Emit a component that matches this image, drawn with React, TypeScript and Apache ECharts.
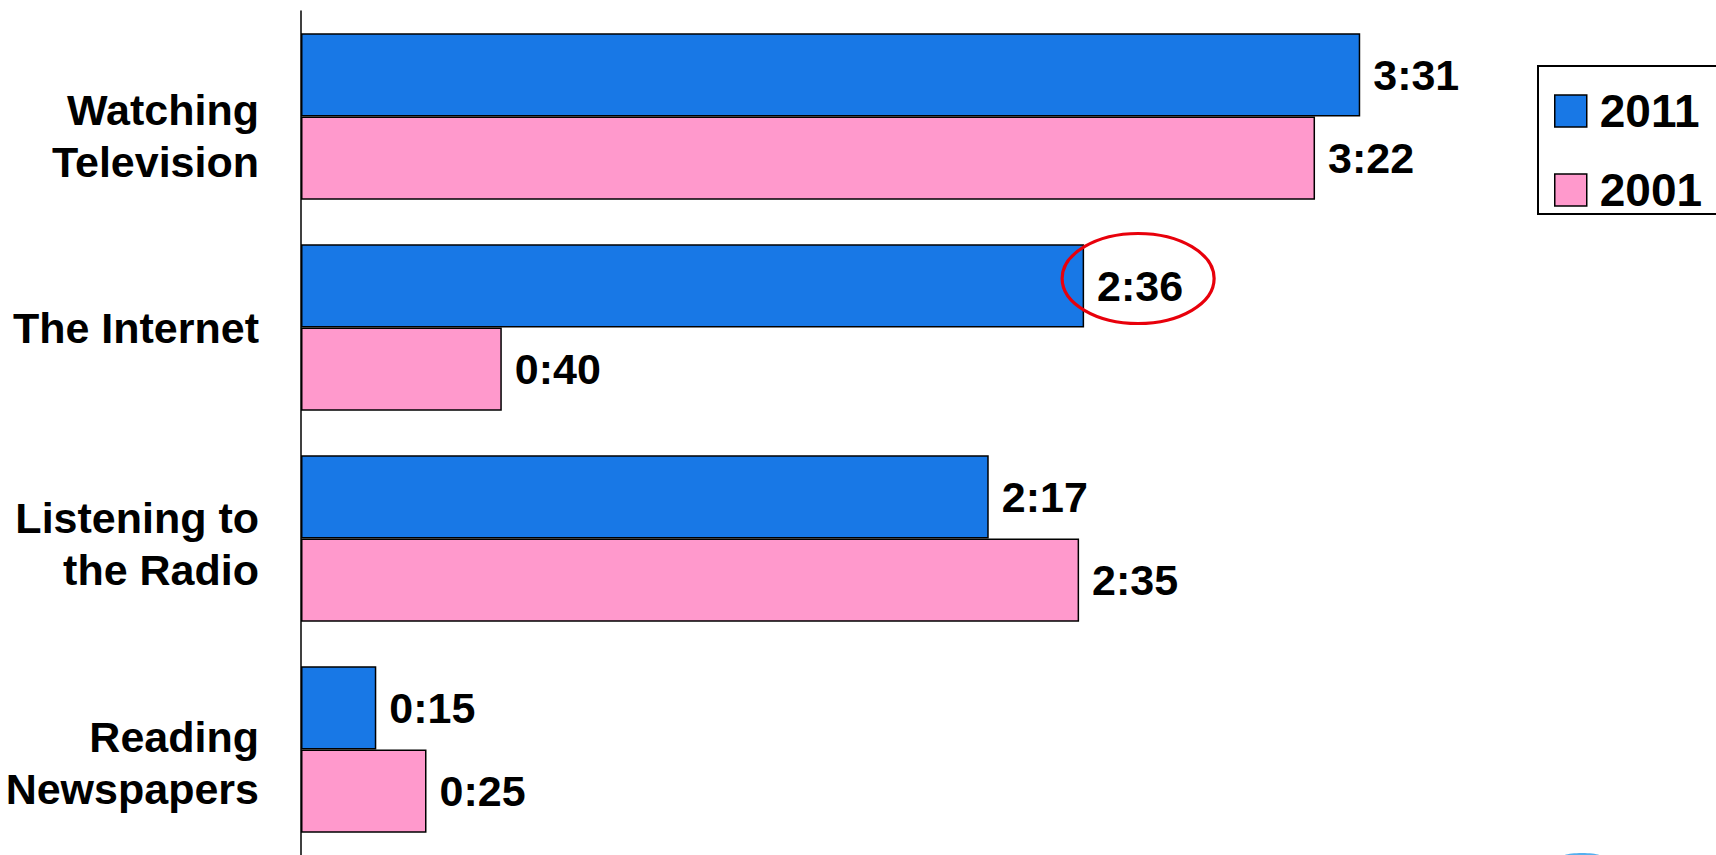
import React, { useEffect, useRef } from "react";
import * as echarts from "echarts";

const categories = ["Watching\nTelevision", "The Internet", "Listening to\nthe Radio", "Reading\nNewspapers"];
const seriesNames = ["2011", "2001"];
const minutes2011 = [211, 156, 137, 15];
const minutes2001 = [202, 40, 155, 25];
const colors = ["#1878E6", "#FF99CC"];
const highlightIndex = 1; // "The Internet" 2011 value circled
const labelShift = [38, 0, 10, 26];

const FONT = "'Liberation Sans', Arial, Helvetica, sans-serif";

const fmt = (m: number) => {
  const h = Math.floor(m / 60);
  const mm = m % 60;
  return `${h}:${mm < 10 ? "0" + mm : mm}`;
};

export default function App() {
  const ref = useRef<HTMLDivElement>(null);
  useEffect(() => {
    if (!ref.current) return;
    const chart = echarts.init(ref.current, null, { renderer: "svg" });
    const labelStyle = {
      show: true,
      position: "right" as const,
      distance: 13,
      formatter: (p: any) => fmt(p.value),
      fontSize: 43,
      fontWeight: "bold" as const,
      fontFamily: FONT,
      color: "#000",
    };
    const catText = { fontSize: 43, fontWeight: "bold", fontFamily: FONT, color: "#000", lineHeight: 52, align: "right" };
    chart.setOption({
      animation: false,
      grid: { left: 301, top: 11, width: 1255, height: 844, containLabel: false },
      xAxis: { type: "value", min: 0, max: 250, show: false },
      yAxis: {
        type: "category",
        inverse: true,
        data: categories,
        axisTick: { show: false },
        axisLine: { show: true, lineStyle: { color: "#000", width: 1.5 } },
        axisLabel: {
          margin: 42,
          formatter: (v: string, i: number) => {
            const lines = v.split("\n").map((l) => `{b|${l}}`);
            const sh = labelShift[i] || 0;
            if (sh > 0) return `{s${i}| }\n` + lines.join("\n");
            return lines.join("\n");
          },
          rich: {
            b: catText,
            s0: { fontSize: 2, lineHeight: labelShift[0] },
            s2: { fontSize: 2, lineHeight: labelShift[2] },
            s3: { fontSize: 2, lineHeight: labelShift[3] },
          },
        },
      },
      legend: {
        data: seriesNames,
        orient: "vertical",
        left: 1554,
        top: 88,
        padding: 0,
        itemWidth: 32,
        itemHeight: 32,
        itemGap: 33,
        icon: "rect",
        itemStyle: { borderColor: "#000", borderWidth: 1.5 },
        textStyle: {
          fontSize: 46,
          fontWeight: "bold",
          fontFamily: FONT,
          color: "#000",
          lineHeight: 40,
          padding: [0, 0, 0, 8],
        },
      },
      series: [
        {
          name: seriesNames[0],
          type: "bar",
          data: minutes2011,
          barGap: "0%",
          barCategoryGap: "21%",
          itemStyle: { color: colors[0], borderColor: "#000", borderWidth: 1.5 },
          label: labelStyle,
        },
        {
          name: seriesNames[1],
          type: "bar",
          data: minutes2001,
          barGap: "0%",
          barCategoryGap: "21%",
          itemStyle: { color: colors[1], borderColor: "#000", borderWidth: 1.5 },
          label: labelStyle,
        },
      ],
    });
    const x = chart.convertToPixel({ xAxisIndex: 0 }, minutes2011[highlightIndex]) as number;
    const y = chart.convertToPixel({ yAxisIndex: 0 }, highlightIndex) as number;
    chart.setOption({
      graphic: [
        {
          type: "rect",
          z: 100,
          shape: { x: 1538, y: 66, width: 200, height: 148 },
          style: { fill: "none", stroke: "#000", lineWidth: 2 },
        },
        {
          type: "ellipse",
          z: 100,
          shape: { cx: x + 54, cy: y - 49, rx: 76, ry: 45 },
          style: { fill: "none", stroke: "#E8000B", lineWidth: 3.2 },
        },
        {
          type: "ellipse",
          z: 100,
          shape: { cx: 1582, cy: 857, rx: 20, ry: 4 },
          style: { fill: "#2A9BEA", opacity: 0.8 },
        },
      ],
    });
    return () => chart.dispose();
  }, []);
  return (
    <div
      ref={ref}
      style={{ position: "fixed", left: 0, top: 0, width: 1716, height: 855, background: "#fff" }}
    />
  );
}
